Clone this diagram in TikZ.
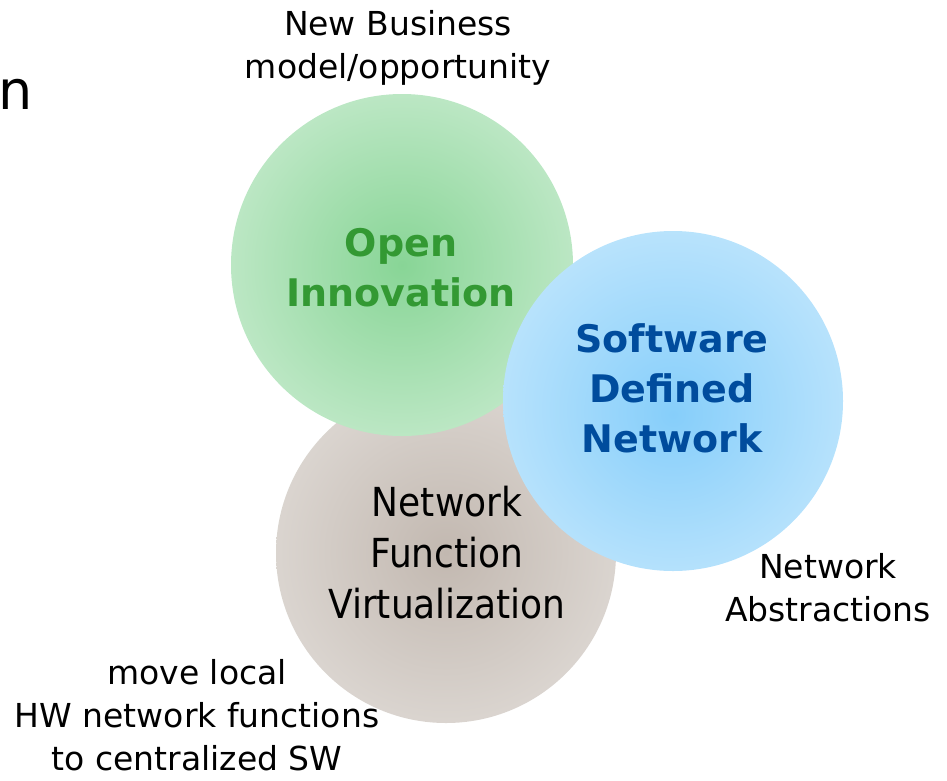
\documentclass[tikz,border=0pt]{standalone}
\usepackage{fontspec}
\setmainfont{DejaVu Sans}
\newfontfamily\narrowfont{DejaVu Sans Condensed}
\definecolor{oicore}{RGB}{136,213,150}
\definecolor{oirim}{RGB}{208,238,214}
\definecolor{sdncore}{RGB}{134,206,250}
\definecolor{sdnrim}{RGB}{202,234,253}
\definecolor{nfvcore}{RGB}{194,184,176}
\definecolor{nfvrim}{RGB}{228,224,220}
\pgfdeclareradialshading{oiball}{\pgfpoint{0bp}{0bp}}{color(0bp)=(oicore); color(35bp)=(oirim); color(50bp)=(oirim)}
\pgfdeclareradialshading{sdnball}{\pgfpoint{0bp}{-2bp}}{color(0bp)=(sdncore); color(35bp)=(sdnrim); color(50bp)=(sdnrim)}
\pgfdeclareradialshading{nfvball}{\pgfpoint{0bp}{0bp}}{color(0bp)=(nfvcore); color(35bp)=(nfvrim); color(50bp)=(nfvrim)}

\begin{document}
\begin{tikzpicture}[x=1pt,y=-1pt,
  note/.style={align=center,inner sep=0pt,font=\fontsize{33}{43}\selectfont},
  topic/.style={align=center,font=\fontsize{38}{50}\selectfont\bfseries},
  plain topic/.style={align=center,font=\narrowfont\fontsize{40}{51}\selectfont}]
  \colorlet{oitext}{green!50!black!80!white}
  \colorlet{sdntext}{blue!45!black!70!cyan}

  \useasboundingbox (0,0) rectangle (947,780);

  \coordinate (NFV) at (446,553);
  \coordinate (OI)  at (402,265);
  \coordinate (SDN) at (673,401);

  \shade [shading=nfvball] (NFV) circle (170pt);
  \shade [shading=oiball]  (OI)  circle (171pt);
  \shade [shading=sdnball] (SDN) circle (170pt);

  \node [inner sep=0pt,font=\fontsize{54}{60}\selectfont] (title) at (16,94) {n};

  \node [note] (newbiz) at (398,48) {New Business\\model/opportunity};

  \node [topic,text=oitext] (oi) at (401,268) {Open\\Innovation};
  \node [topic,text=sdntext] (sdn) at (672,388) {Software\\Defined\\Network};
  \node [plain topic] (nfv) at (447,553) {Network\\Function\\Virtualization};

  \node [note] (abstr) at (828,588) {Network\\Abstractions};
  \node [note] (movehw) at (197,715) {move local\\HW network functions\\to centralized SW};
\end{tikzpicture}
\end{document}
